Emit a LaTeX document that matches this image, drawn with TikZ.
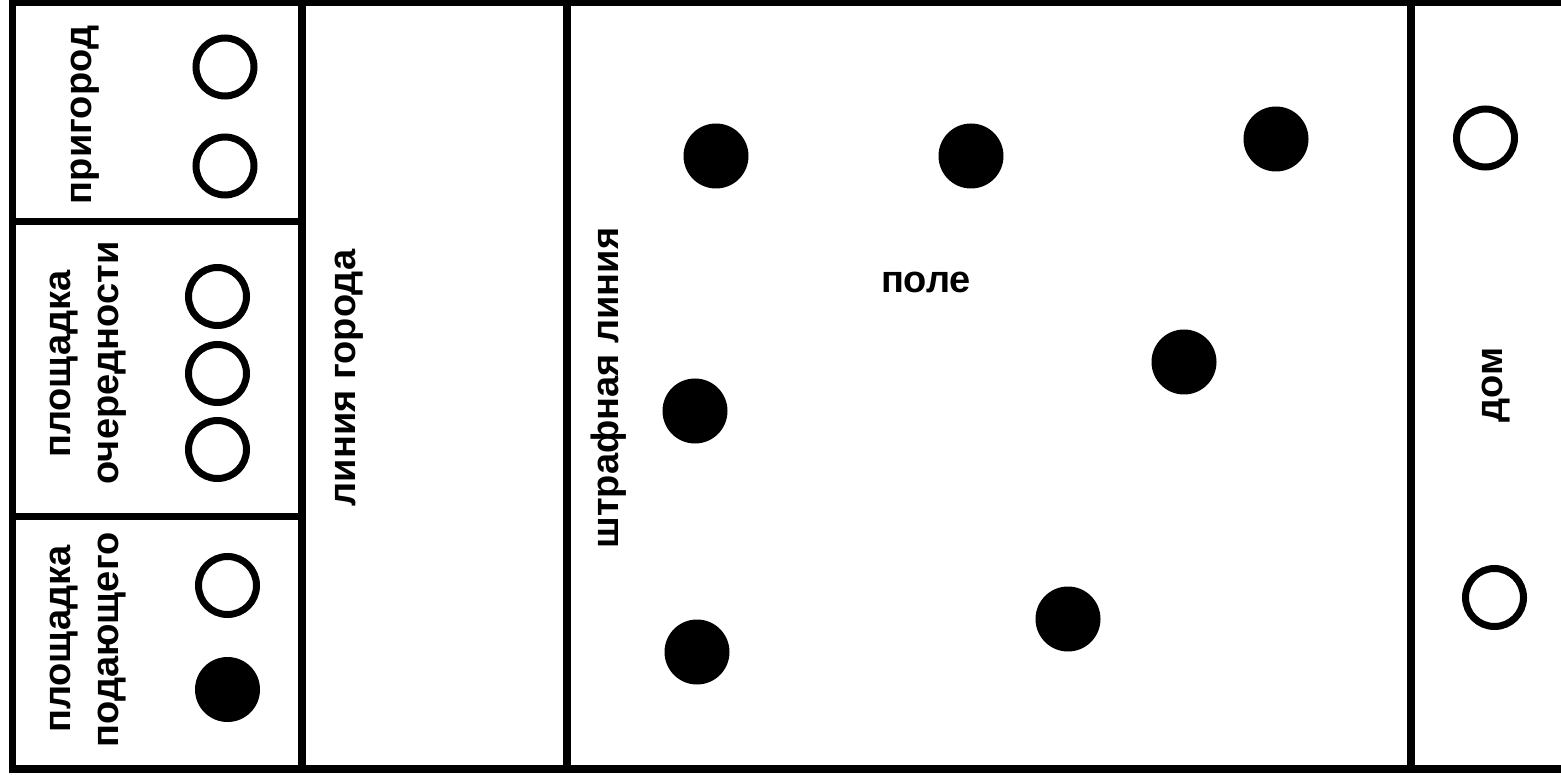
\documentclass[tikz,border=0pt]{standalone}
\usepackage{fontspec}
\setmainfont{Liberation Sans}
\begin{document}
\begin{tikzpicture}[x=1pt,y=-1pt,
  wall/.style={line width=7.5pt, line cap=rect},
  openstone/.style={circle, draw, line width=7pt, minimum size=58pt, inner sep=0pt},
  fullstone/.style={circle, fill, minimum size=65pt, inner sep=0pt},
  vlabel/.style={rotate=90, anchor=base, inner sep=0pt, font=\bfseries\fontsize{38}{46}\selectfont},
  hlabel/.style={anchor=base, inner sep=0pt, font=\bfseries\fontsize{38}{46}\selectfont}]
\useasboundingbox (0,0) rectangle (1561,775);
\fill[white] (0,0) rectangle (1561,775);
% frame
\draw[wall] (1575,2.5) -- (12.5,2.5) -- (12.5,769) -- (1575,769);
\draw[wall] (302,2.5) -- (302,769);
\draw[wall] (567,2.5) -- (567,769);
\draw[wall] (1411,2.5) -- (1411,769);
\draw[wall] (12.5,221.5) -- (302,221.5);
\draw[wall] (12.5,516.5) -- (302,516.5);
% labels
\node[vlabel] (prigorod) at (91,115) {пригород};
\node[vlabel] (och1) at (70,364) {площадка};
\node[vlabel] (och2) at (118,363) {очередности};
\node[vlabel] (pod1) at (70,639) {площадка};
\node[vlabel] (pod2) at (118,640) {подающего};
\node[vlabel] (liniya) at (355,378) {линия города};
\node[vlabel] (shtraf) at (618,388) {штрафная линия};
\node[hlabel] (pole) at (926,293) {поле};
\node[vlabel] (dom) at (1502,385) {дом};
% stones
\node[openstone] (s1) at (225,67) {};
\node[openstone] (s2) at (225,166) {};
\node[openstone] (q1) at (217.5,296.5) {};
\node[openstone] (q2) at (217.5,373.5) {};
\node[openstone] (q3) at (217.5,449.5) {};
\node[openstone] (d1) at (227.5,585.5) {};
\node[fullstone] (d2) at (227.5,689.5) {};
\node[fullstone] (f1) at (716,156) {};
\node[fullstone] (f2) at (971,156) {};
\node[fullstone] (f3) at (1276,139) {};
\node[fullstone] (f4) at (1184,362) {};
\node[fullstone] (f5) at (695,411) {};
\node[fullstone] (f6) at (697,652) {};
\node[fullstone] (f7) at (1068,619) {};
\node[openstone] (h1) at (1485.5,138) {};
\node[openstone] (h2) at (1494.5,597.5) {};
\end{tikzpicture}
\end{document}
